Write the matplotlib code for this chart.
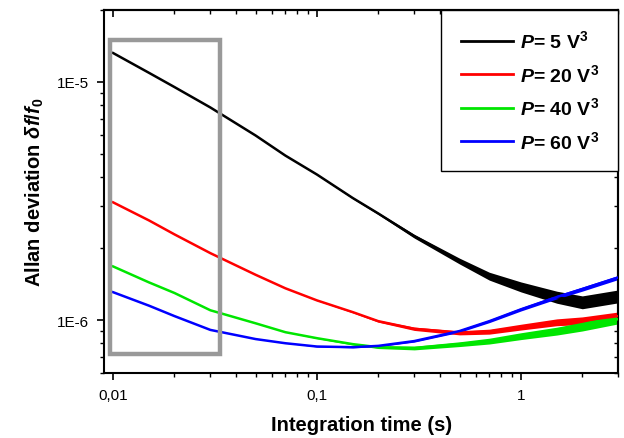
import matplotlib
matplotlib.use('Agg')
import matplotlib.pyplot as plt
from matplotlib.patches import Rectangle
from matplotlib.ticker import FixedLocator, FixedFormatter, NullFormatter, LogLocator

plt.rcParams['font.family'] = ['Liberation Sans', 'DejaVu Sans']
plt.rcParams['mathtext.fontset'] = 'custom'
plt.rcParams['mathtext.rm'] = 'Liberation Sans:bold'
plt.rcParams['mathtext.it'] = 'Liberation Sans:bold:italic'
plt.rcParams['mathtext.bf'] = 'Liberation Sans:bold'

# integration time (s)
tau = [0.01, 0.015, 0.02, 0.03, 0.05, 0.07, 0.1, 0.15, 0.2, 0.3, 0.5, 0.7, 1.0, 1.5, 2.0, 3.0]

# Allan deviation
p5 = [1.32e-5, 1.09e-5, 9.5e-6, 7.8e-6, 5.95e-6, 4.9e-6, 4.08e-6, 3.25e-6, 2.8e-6,
      2.25e-6, 1.77e-6, 1.53e-6, 1.38e-6, 1.25e-6, 1.19e-6, 1.26e-6]
p20 = [3.12e-6, 2.62e-6, 2.29e-6, 1.91e-6, 1.55e-6, 1.36e-6, 1.21e-6, 1.08e-6, 9.9e-7,
       9.2e-7, 8.85e-7, 8.95e-7, 9.35e-7, 9.8e-7, 9.95e-7, 1.04e-6]
p40 = [1.68e-6, 1.44e-6, 1.3e-6, 1.1e-6, 9.7e-7, 8.9e-7, 8.4e-7, 7.93e-7, 7.7e-7,
       7.64e-7, 7.93e-7, 8.17e-7, 8.57e-7, 9.0e-7, 9.4e-7, 1.01e-6]
p60 = [1.31e-6, 1.15e-6, 1.04e-6, 9.1e-7, 8.33e-7, 8.0e-7, 7.75e-7, 7.7e-7, 7.8e-7,
       8.17e-7, 9.0e-7, 9.9e-7, 1.11e-6, 1.25e-6, 1.35e-6, 1.51e-6]

# relative half-width of the noise band seen at long times
p5_noise = [0, 0, 0, 0, 0, 0, 0.004, 0.007, 0.01, 0.018, 0.028, 0.038, 0.048, 0.058, 0.062, 0.062]
p20_noise = [0, 0, 0, 0, 0, 0, 0.003, 0.007, 0.01, 0.016, 0.02, 0.024, 0.028, 0.033, 0.037, 0.04]
p40_noise = [0, 0, 0, 0, 0, 0, 0.004, 0.008, 0.013, 0.018, 0.023, 0.028, 0.033, 0.038, 0.042, 0.045]
p60_noise = [0, 0, 0, 0, 0, 0, 0.004, 0.006, 0.008, 0.01, 0.012, 0.014, 0.016, 0.018, 0.02, 0.02]

labels = [r'$P$= 5 V$^3$', r'$P$= 20 V$^3$', r'$P$= 40 V$^3$', r'$P$= 60 V$^3$']
colors = ['#000000', '#ff0000', '#00e600', '#0000ff']

fig = plt.figure(figsize=(6.24, 4.39), dpi=100)
ax = fig.add_axes([0.1667, 0.148, 0.824, 0.827])

for y, noise, c, lab in zip([p5, p20, p40, p60], [p5_noise, p20_noise, p40_noise, p60_noise], colors, labels):
    lo = [v * (1 - n) for v, n in zip(y, noise)]
    hi = [v * (1 + n) for v, n in zip(y, noise)]
    ax.fill_between(tau, lo, hi, color=c, lw=0, zorder=2)
    ax.plot(tau, y, color=c, lw=1.8, label=lab, zorder=3)

ax.set_xscale('log')
ax.set_yscale('log')
ax.set_xlim(0.00903, 3.0)
ax.set_ylim(6.0e-7, 2.0e-5)

# gray frame around the short-time region
ax.add_patch(Rectangle((0.0097, 7.2e-7), 0.0335 - 0.0097, 1.5e-5 - 7.2e-7,
                       fill=False, edgecolor='#999999', lw=3.2, zorder=4))

ax.xaxis.set_major_locator(FixedLocator([0.01, 0.1, 1]))
ax.xaxis.set_major_formatter(FixedFormatter(['0,01', '0,1', '1']))
ax.xaxis.set_minor_locator(LogLocator(subs=range(2, 10)))
ax.xaxis.set_minor_formatter(NullFormatter())
ax.yaxis.set_major_locator(FixedLocator([1e-6, 1e-5]))
ax.yaxis.set_major_formatter(FixedFormatter(['1E-6', '1E-5']))
ax.yaxis.set_minor_locator(LogLocator(subs=range(2, 10)))
ax.yaxis.set_minor_formatter(NullFormatter())

ax.tick_params(which='major', direction='out', length=5, width=1.2, labelsize=11, pad=6)
ax.tick_params(which='minor', direction='out', length=3, width=1.0)
for s in ax.spines.values():
    s.set_linewidth(1.5)

# Origin-style inward ticks on top and right
top = ax.secondary_xaxis('top')
top.xaxis.set_major_locator(FixedLocator([0.01, 0.1, 1]))
top.xaxis.set_minor_locator(LogLocator(subs=range(2, 10)))
top.xaxis.set_major_formatter(NullFormatter())
top.xaxis.set_minor_formatter(NullFormatter())
top.tick_params(which='major', direction='in', length=5, width=1.2)
top.tick_params(which='minor', direction='in', length=3, width=1.0)
top.spines['top'].set_linewidth(1.5)
right = ax.secondary_yaxis('right')
right.yaxis.set_major_locator(FixedLocator([1e-6, 1e-5]))
right.yaxis.set_minor_locator(LogLocator(subs=range(2, 10)))
right.yaxis.set_major_formatter(NullFormatter())
right.yaxis.set_minor_formatter(NullFormatter())
right.tick_params(which='major', direction='in', length=5, width=1.2)
right.tick_params(which='minor', direction='in', length=3, width=1.0)
right.spines['right'].set_linewidth(1.5)

ax.set_xlabel('Integration time (s)', fontsize=14.5, fontweight='bold', labelpad=9)
ax.set_ylabel(r'Allan deviation $\delta f/f_\mathit{0}$', fontsize=14.5, fontweight='bold', labelpad=8)

leg = ax.legend(loc='upper right', bbox_to_anchor=(1.0, 1.0), borderaxespad=0,
                prop={'weight': 'bold', 'size': 14}, fancybox=False, framealpha=1,
                edgecolor='black', handlelength=2.67, handletextpad=0.35,
                borderpad=1.0, labelspacing=0.6)
leg.get_frame().set_linewidth(1.0)
for line in leg.get_lines():
    line.set_linewidth(2)

fig.savefig('out.png', dpi=100)
